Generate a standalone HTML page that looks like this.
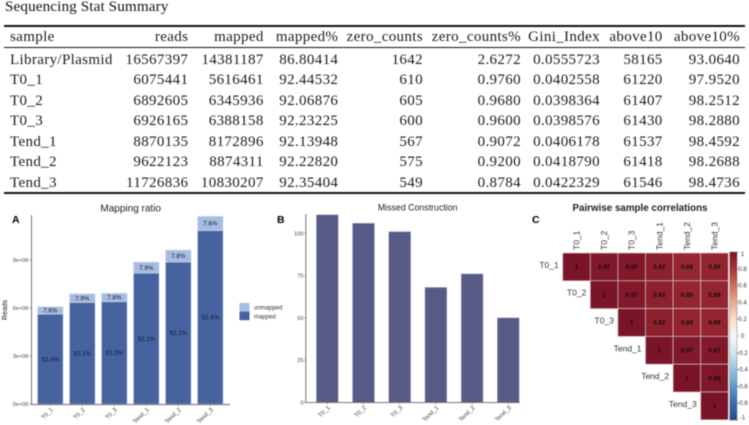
<!DOCTYPE html>
<html lang="en">
<head>
<meta charset="utf-8">
<title>Sequencing Stat Summary</title>
<style>
html,body{margin:0;padding:0;background:#fff;}
body{width:749px;height:425px;position:relative;overflow:hidden;}
#wrap{position:absolute;left:0;top:0;width:749px;height:425px;filter:blur(0.4px);}
#table-title{position:absolute;left:5px;top:-2px;font:15.2px/18px "Liberation Serif",serif;letter-spacing:.1px;color:#111;white-space:nowrap;}
#stats{position:absolute;left:4px;top:25px;width:741px;table-layout:fixed;border-collapse:collapse;font:15px "Liberation Serif",serif;letter-spacing:.35px;color:#1c1c1c;border-top:2px solid #111;border-bottom:2px solid #111;}
#stats th,#stats td{padding:0;text-align:right;font-weight:normal;height:20.5px;line-height:20px;white-space:nowrap;overflow:visible;}
#stats td{position:relative;top:1px;}
#stats th{height:20.4px;border-bottom:1.5px solid #111;position:relative;}
#stats th:first-child,#stats td:first-child{text-align:left;padding-left:6px;}
#stats th:last-child,#stats td:last-child{padding-right:5px;}
svg{position:absolute;left:0;top:0;}
svg text{font-family:"Liberation Sans",sans-serif;}
</style>
</head>
<body>
<div id="wrap">
<div id="table-title">Sequencing Stat Summary</div>
<table id="stats">
<colgroup><col style="width:108px"><col style="width:76.3px"><col style="width:75.4px"><col style="width:74.6px"><col style="width:84.7px"><col style="width:98px"><col style="width:79px"><col style="width:62.7px"><col style="width:82.3px"></colgroup>
<thead><tr><th>sample</th><th>reads</th><th>mapped</th><th>mapped%</th><th>zero_counts</th><th>zero_counts%</th><th>Gini_Index</th><th>above10</th><th>above10%</th></tr></thead>
<tbody>
<tr><td>Library/Plasmid</td><td>16567397</td><td>14381187</td><td>86.80414</td><td>1642</td><td>2.6272</td><td>0.0555723</td><td>58165</td><td>93.0640</td></tr>
<tr><td>T0_1</td><td>6075441</td><td>5616461</td><td>92.44532</td><td>610</td><td>0.9760</td><td>0.0402558</td><td>61220</td><td>97.9520</td></tr>
<tr><td>T0_2</td><td>6892605</td><td>6345936</td><td>92.06876</td><td>605</td><td>0.9680</td><td>0.0398364</td><td>61407</td><td>98.2512</td></tr>
<tr><td>T0_3</td><td>6926165</td><td>6388158</td><td>92.23225</td><td>600</td><td>0.9600</td><td>0.0398576</td><td>61430</td><td>98.2880</td></tr>
<tr><td>Tend_1</td><td>8870135</td><td>8172896</td><td>92.13948</td><td>567</td><td>0.9072</td><td>0.0406178</td><td>61537</td><td>98.4592</td></tr>
<tr><td>Tend_2</td><td>9622123</td><td>8874311</td><td>92.22820</td><td>575</td><td>0.9200</td><td>0.0418790</td><td>61418</td><td>98.2688</td></tr>
<tr><td>Tend_3</td><td>11726836</td><td>10830207</td><td>92.35404</td><td>549</td><td>0.8784</td><td>0.0422329</td><td>61546</td><td>98.4736</td></tr>
</tbody>
</table>
<svg id="charts" width="749" height="425" viewBox="0 0 749 425"></svg>
</div>
<script>
const samples = ['T0_1','T0_2','T0_3','Tend_1','Tend_2','Tend_3'];
const mappedReads = [5616461,6345936,6388158,8172896,8874311,10830207];
const unmappedReads = [458980,546669,538007,697239,747812,896629];
const mappedLabels = ['92.4%','92.1%','92.2%','92.1%','92.2%','92.4%'];
const unmappedLabels = ['7.6%','7.9%','7.8%','7.9%','7.8%','7.6%'];
const readTicks = [0,3000000,6000000,9000000];
const readTickLabels = ['0e+00','3e+06','6e+06','9e+06'];
const missed = [111,106,101,68,76,50];
const missedTicks = [0,25,50,75,100];
const corrLabels = ['T0_1','T0_2','T0_3','Tend_1','Tend_2','Tend_3'];
const corrRow0 = [1,0.97,0.97,0.92,0.88,0.89];
const corrRow1 = [1,0.97,0.92,0.89,0.89];
const corrRow2 = [1,0.92,0.89,0.89];
const corrRow3 = [1,0.97,0.97];
const corrRow4 = [1,0.98];
const corrRow5 = [1];
const corrRows = [corrRow0,corrRow1,corrRow2,corrRow3,corrRow4,corrRow5];
const colorbarTicks = [1,0.8,0.6,0.4,0.2,0,-0.2,-0.4,-0.6,-0.8,-1];

const svg = document.getElementById('charts');
const NS = 'http://www.w3.org/2000/svg';
function make(tag, attrs, txt){
  const e = document.createElementNS(NS, tag);
  for (const k in attrs) e.setAttribute(k, attrs[k]);
  if (txt !== undefined) e.textContent = txt;
  svg.appendChild(e);
  return e;
}
function label(x,y,txt,size,fill,anchor,extra){
  return make('text',Object.assign({x:x,y:y,'font-size':size,fill:fill,'text-anchor':anchor||'middle'},extra||{}),txt);
}

/* Panel A */
const yA = v => 404 - v * 16 / 1e6;
const xA = i => 50.3 + i * 32;
const wA = 25.5;
let el;
el = label(12,223,'A',10.5,'#000','start',{'font-weight':'bold'});


el = label(130.7,211.5,'Mapping ratio',10,'#222');


el = label(0,0,'Reads',7,'#111','middle',{transform:'translate(7,310) rotate(-90)'});


samples.forEach((s,i)=>{
  const m = mappedReads[i], u = unmappedReads[i];
  el = make('rect',{x:xA(i)-wA/2,y:yA(m),width:wA,height:yA(0)-yA(m),fill:'#46639f',stroke:'#c3d0e6','stroke-width':.5});
  
  
  el = make('rect',{x:xA(i)-wA/2,y:yA(m+u),width:wA,height:yA(m)-yA(m+u),fill:'#a5bde2',stroke:'#d3def0','stroke-width':.5});
  
  
  el = label(xA(i),yA(m/2)+2.2,mappedLabels[i],6.2,'#141a2a');
  
  
  el = label(xA(i),yA(m+u/2)+2.2,unmappedLabels[i],6.2,'#141a2a');
  
  
  el = make('line',{x1:xA(i),x2:xA(i),y1:404,y2:406,stroke:'#666','stroke-width':.6});
  
  
  el = label(0,0,s,6,'#444','end',{transform:`translate(${xA(i)+3},410) rotate(-45)`});
  
  
});
readTicks.forEach((t,i)=>{
  el = make('line',{x1:29.5,x2:31,y1:yA(t),y2:yA(t),stroke:'#666','stroke-width':.6});
  
  
  el = label(28.5,yA(t)+2,readTickLabels[i],5.6,'#444','end');
  
  
});
el = make('line',{x1:31.5,x2:31.5,y1:215,y2:404.5,stroke:'#666','stroke-width':.9});


el = make('line',{x1:31,x2:230,y1:404.5,y2:404.5,stroke:'#666','stroke-width':.9});


el = make('rect',{x:239.5,y:303,width:10,height:8.6,fill:'#a5bde2'});


el = make('rect',{x:239.5,y:311.6,width:10,height:8.6,fill:'#46639f'});


el = label(254,309.5,'unmapped',6,'#333','start');


el = label(254,318.5,'mapped',6,'#333','start');



/* Panel B */
const yB = v => 402.3 - v * 1.69;
const xB = i => 327.3 + i * 36.2;
const wB = 22;
el = label(277,223,'B',10.5,'#000','start',{'font-weight':'bold'});


el = label(417.7,210.5,'Missed Construction',8.8,'#222');


samples.forEach((s,i)=>{
  el = make('rect',{x:xB(i)-wB/2,y:yB(missed[i]),width:wB,height:yB(0)-yB(missed[i]),fill:'#565a85',stroke:'#c0c3d8','stroke-width':.5});
  
  
  el = make('line',{x1:xB(i),x2:xB(i),y1:402.3,y2:404.3,stroke:'#666','stroke-width':.6});
  
  
  el = label(0,0,s,6,'#444','end',{transform:`translate(${xB(i)+3},408) rotate(-45)`});
  
  
});
missedTicks.forEach(t=>{
  el = make('line',{x1:304,x2:305.7,y1:yB(t),y2:yB(t),stroke:'#666','stroke-width':.6});
  
  
  el = label(303.5,yB(t)+2,String(t),5.6,'#444','end');
  
  
});
el = make('line',{x1:305.8,x2:305.8,y1:214,y2:402.8,stroke:'#666','stroke-width':.9});


el = make('line',{x1:305.5,x2:520,y1:402.6,y2:402.6,stroke:'#666','stroke-width':.9});



/* Panel C */
const stopsV = [-1,-0.8,-0.6,-0.4,-0.2,0,0.2,0.4,0.6,0.8,1];
const stopsC = [[42,72,140],[58,108,172],[90,155,200],[150,195,222],[212,228,240],[248,248,248],[247,222,204],[232,170,144],[205,110,90],[170,50,54],[122,20,40]];
function corrColor(v){
  let i = 0;
  while (i < stopsV.length-2 && v > stopsV[i+1]) i++;
  const t = (v-stopsV[i])/(stopsV[i+1]-stopsV[i]);
  const c = stopsC[i].map((a,k)=>Math.round(a+(stopsC[i+1][k]-a)*t));
  return `rgb(${c[0]},${c[1]},${c[2]})`;
}
const cw = 27.6, ch = 27.8, cx0 = 562.7, cy0 = 253;
el = label(532,223,'C',10.5,'#000','start',{'font-weight':'bold'});


el = label(640,211,'Pairwise sample correlations',9.8,'#222','middle',{'font-weight':'bold'});


corrLabels.forEach((s,i)=>{
  el = label(0,0,s,8.5,'#333','start',{transform:`translate(${cx0+cw*(i+.5)+3},250) rotate(-90)`});
  
  
  el = label(cx0+cw*i-4,cy0+ch*(i+.5)+1,s,8.5,'#333','end');
  
  
});
corrRows.forEach((row,r)=>{
  row.forEach((v,k)=>{
    const c = r+k;
    el = make('rect',{x:cx0+cw*c,y:cy0+ch*r,width:cw,height:ch,fill:corrColor(v),stroke:'#d5c5c5','stroke-width':.7});
    
    
    el = label(cx0+cw*(c+.5),cy0+ch*(r+.5)+2.2,String(v),6.2,'#1a0a0a','middle',{'font-weight':'bold'});
    
    
  });
});
const cbTop = 252, cbBottom = 420;
const cbY = v => cbTop + (1-v)/2*(cbBottom-cbTop);
for (let p = 0; p < 84; p++){
  const v = 1-(p+.5)/42;
  el = make('rect',{x:729.7,y:cbTop+p*2,width:7.3,height:2.2,fill:corrColor(v)});
  
  
}
el = make('rect',{x:729.7,y:cbTop,width:7.3,height:cbBottom-cbTop,fill:'none',stroke:'#666','stroke-width':.4});


colorbarTicks.forEach(t=>{
  el = make('line',{x1:737,x2:738.5,y1:cbY(t),y2:cbY(t),stroke:'#555','stroke-width':.5});
  
  
  const yy = t===1 ? cbY(t)+4 : t===-1 ? cbY(t)-0.5 : cbY(t)+2;
  el = label(742.5,yy,String(t),6,'#333','middle');
  
  
});
</script>
</body>
</html>
